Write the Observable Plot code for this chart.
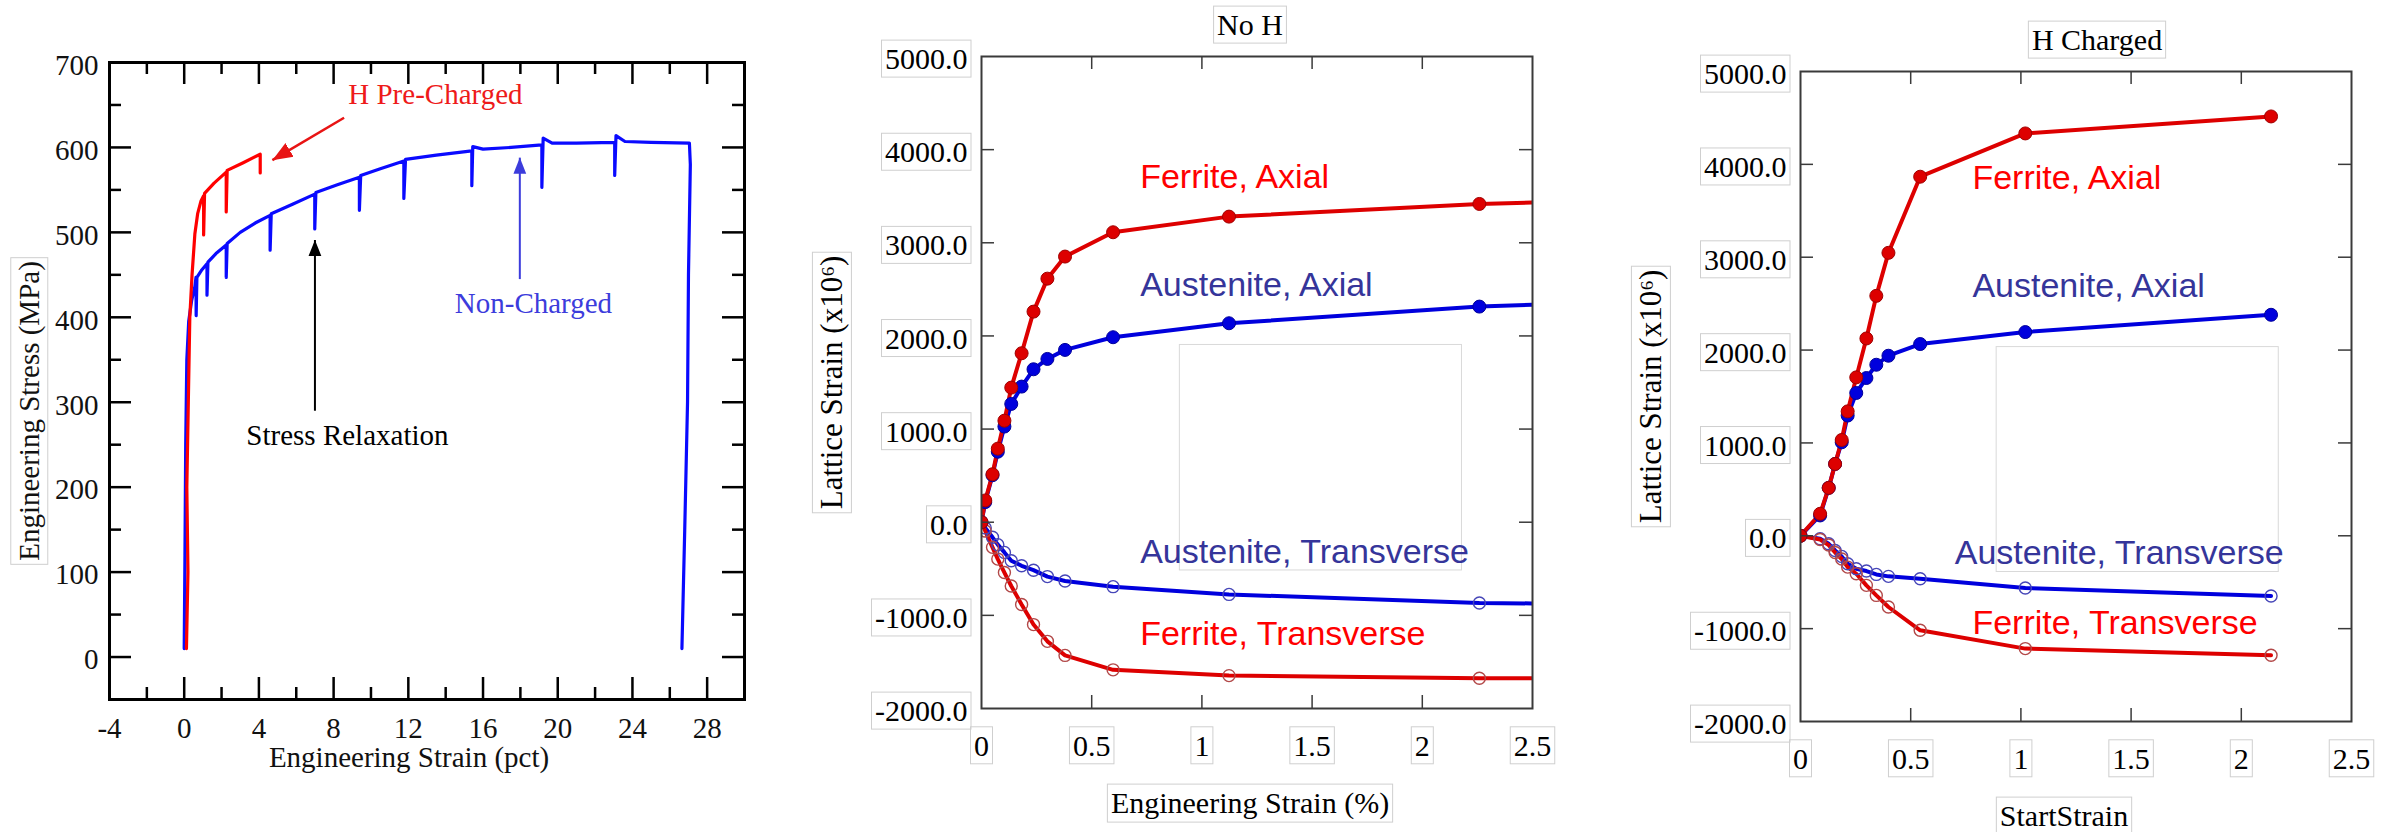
<!DOCTYPE html>
<html>
<head>
<meta charset="utf-8">
<script src="https://cdn.jsdelivr.net/npm/d3@7"></script>
<script src="https://cdn.jsdelivr.net/npm/@observablehq/plot@0.6"></script>
<style>
  html, body { margin: 0; padding: 0; background: #fff; }
  #figure { position: relative; width: 2389px; height: 832px; overflow: hidden; background: #fff; }
  #figure > svg { position: absolute; top: 0; }
</style>
</head>
<body>
<div id="figure"></div>
<script>
// ---------- Tensile curves (engineering strain in pct, stress in MPa) ----------
const nonChargedStrain = [0.00, 0.04, 0.08, 0.14, 0.24, 0.40, 0.57, 0.63, 0.64, 0.68, 0.95, 1.22, 1.22, 1.27, 1.70, 2.25, 2.25, 2.30, 3.00, 3.80, 4.60, 4.60, 4.66, 5.80, 6.99, 6.99, 7.05, 8.20, 9.38, 9.38, 9.45, 10.5, 11.76, 11.76, 11.85, 13.5, 15.40, 15.40, 15.45, 16.0, 17.5, 19.15, 19.15, 19.22, 19.7, 21.0, 23.05, 23.05, 23.12, 23.6, 25.0, 27.05, 27.10, 27.00, 26.95, 26.80, 26.65];
const nonChargedStress = [10, 120, 250, 350, 395, 420, 436, 447, 402, 447, 456, 463, 426, 465, 475, 485, 447, 487, 500, 511, 520, 479, 522, 533, 545, 504, 547, 556, 565, 526, 567, 575, 584, 540, 586, 591, 596, 555, 601, 598, 600, 603, 553, 611, 605, 605, 606, 567, 614, 607, 606, 605, 580, 450, 300, 150, 10];
const preChargedStrain = [0.12, 0.20, 0.14, 0.22, 0.30, 0.42, 0.57, 0.72, 0.90, 1.04, 1.04, 1.09, 1.60, 2.25, 2.25, 2.30, 3.16, 4.07, 4.07];
const preChargedStress = [10, 100, 200, 300, 400, 450, 498, 522, 537, 543, 497, 546, 558, 571, 524, 573, 582, 592, 570];

const tensileXLabels = [-4, 0, 4, 8, 12, 16, 20, 24, 28];
const tensileXMajor = [0, 4, 8, 12, 16, 20, 24, 28];
const tensileXMinor = [-2, 2, 6, 10, 14, 18, 22, 26];
const tensileYLabels = [0, 100, 200, 300, 400, 500, 600, 700];
const tensileYMajor = [0, 100, 200, 300, 400, 500, 600];
const tensileYMinor = [50, 150, 250, 350, 450, 550, 650];

const tensileNotes = [
  {text: "H Pre-Charged", x: 13.45, y: 662, color: "#ee1a1a"},
  {text: "Non-Charged", x: 18.7, y: 416, color: "#3c3cdc"},
  {text: "Stress Relaxation", x: 8.74, y: 260, color: "#000000"}
];
const tensileArrows = [
  {x1: 8.56, y1: 635, x2: 4.72, y2: 585, color: "#e81414", width: 2.5},
  {x1: 7.0, y1: 290, x2: 7.0, y2: 491, color: "#000000", width: 2},
  {x1: 17.97, y1: 445, x2: 17.97, y2: 588, color: "#3c3cdc", width: 2}
];

// ---------- Lattice strains (x10^6) without hydrogen ----------
const noHStrain = [0, 0.017, 0.05, 0.074, 0.104, 0.135, 0.182, 0.236, 0.299, 0.379, 0.597, 1.123, 2.259, 3.0];
const noHFerriteAxial = [0, 234, 515, 790, 1090, 1445, 1814, 2261, 2615, 2852, 3113, 3281, 3417, 3465];
const noHAusteniteAxial = [0, 216, 505, 757, 1027, 1270, 1456, 1642, 1753, 1850, 1986, 2136, 2315, 2375];
const noHFerriteTransverse = [0, -95, -270, -396, -540, -685, -883, -1099, -1279, -1430, -1585, -1647, -1676, -1676];
const noHAusteniteTransverse = [0, -61, -162, -241, -324, -414, -468, -515, -584, -631, -692, -775, -868, -880];

// ---------- Lattice strains (x10^6) after hydrogen charging ----------
const hStrain = [0, 0.089, 0.128, 0.157, 0.187, 0.214, 0.253, 0.299, 0.344, 0.399, 0.543, 1.02, 2.135];
const hFerriteAxial = [0, 237, 516, 774, 1032, 1340, 1706, 2125, 2584, 3047, 3867, 4333, 4516];
const hAusteniteAxial = [0, 219, 516, 774, 1007, 1295, 1538, 1699, 1842, 1939, 2065, 2194, 2380];
const hFerriteTransverse = [0, -40, -100, -180, -250, -337, -409, -534, -642, -767, -1018, -1215, -1287];
const hAusteniteTransverse = [0, -32, -86, -158, -222, -301, -355, -380, -416, -437, -462, -563, -649];

const latticeXLabels = [0, 0.5, 1, 1.5, 2, 2.5];
const latticeXTicks = [0.5, 1, 1.5, 2];
const latticeYLabels = [-2000, -1000, 0, 1000, 2000, 3000, 4000, 5000];
const latticeYTicks = [-1000, 0, 1000, 2000, 3000, 4000];

const noHSeriesLabels = [
  {text: "Ferrite, Axial", x: 0.72, y: 3591, phase: "ferrite"},
  {text: "Austenite, Axial", x: 0.72, y: 2432, phase: "austenite"},
  {text: "Austenite, Transverse", x: 0.72, y: -443, phase: "austenite"},
  {text: "Ferrite, Transverse", x: 0.72, y: -1323, phase: "ferrite"}
];
const hSeriesLabels = [
  {text: "Ferrite, Axial", x: 0.78, y: 3730, phase: "ferrite"},
  {text: "Austenite, Axial", x: 0.78, y: 2567, phase: "austenite"},
  {text: "Austenite, Transverse", x: 0.70, y: -307, phase: "austenite"},
  {text: "Ferrite, Transverse", x: 0.78, y: -1060, phase: "ferrite"}
];
// empty legend frames left over in each lattice panel
const noHLegendBox = [{x1: 0.9, x2: 2.18, y1: 1903, y2: -518}];
const hLegendBox = [{x1: 0.89, x2: 2.17, y1: 2032, y2: -390}];

// ---------- styling ----------
const SERIF = "'Liberation Serif', 'Times New Roman', Times, serif";
const SANS = "'Liberation Sans', Arial, Helvetica, sans-serif";
const FERRITE_LINE = "#dd0000";
const AUSTENITE_LINE = "#0000dd";
const FERRITE_TEXT = "#ff0000";
const AUSTENITE_TEXT = "#35359a";

// Short tick marks pointing into the frame on all four sides: rules inset so only `size` px remain.
function inwardTicks(innerWidth, innerHeight, xs, ys, size, stroke, strokeWidth) {
  const o = {stroke, strokeWidth};
  return [
    Plot.ruleX(xs, {x: (d) => d, insetTop: innerHeight - size, ...o}),
    Plot.ruleX(xs, {x: (d) => d, insetBottom: innerHeight - size, ...o}),
    Plot.ruleY(ys, {y: (d) => d, insetRight: innerWidth - size, ...o}),
    Plot.ruleY(ys, {y: (d) => d, insetLeft: innerWidth - size, ...o})
  ];
}

function rowsOf(xs, ys) {
  return xs.map((x, i) => ({x, y: ys[i]}));
}

// ---------- left panel: stress-strain ----------
const nonCharged = nonChargedStrain.map((s, i) => ({strain: s, stress: nonChargedStress[i]}));
const preCharged = preChargedStrain.map((s, i) => ({strain: s, stress: preChargedStress[i]}));

const T = {width: 780, height: 832, left: 109, right: 36, top: 62, bottom: 133};
const tW = T.width - T.left - T.right;
const tH = T.height - T.top - T.bottom;

const tensile = Plot.plot({
  width: T.width,
  height: T.height,
  marginLeft: T.left,
  marginRight: T.right,
  marginTop: T.top,
  marginBottom: T.bottom,
  x: {domain: [-4, 30]},
  y: {domain: [-50, 700]},
  style: {fontFamily: SERIF, fontSize: "29px", color: "black", background: "white"},
  marks: [
    Plot.line(nonCharged, {x: "strain", y: "stress", stroke: "#0a0aff", strokeWidth: 3.2, strokeLinejoin: "round"}),
    Plot.line(preCharged, {x: "strain", y: "stress", stroke: "#ff0000", strokeWidth: 3.2, strokeLinejoin: "round"}),
    ...tensileArrows.map((a) => Plot.link([a], {x1: "x1", y1: "y1", x2: "x2", y2: "y2", stroke: a.color, strokeWidth: a.width, markerEnd: "arrow"})),
    ...tensileNotes.map((n) => Plot.text([n], {x: "x", y: "y", text: "text", fill: n.color, fontSize: 29, lineAnchor: "middle"})),
    ...inwardTicks(tW, tH, tensileXMajor, tensileYMajor, 22, "black", 2.5),
    ...inwardTicks(tW, tH, tensileXMinor, tensileYMinor, 12, "black", 2.5),
    Plot.frame({stroke: "black", strokeWidth: 3}),
    Plot.axisX({anchor: "bottom", ticks: tensileXLabels, tickSize: 0, tickPadding: 18, tickFormat: (d) => String(d), label: null, fill: "#111"}),
    Plot.axisY({anchor: "left", ticks: tensileYLabels, tickSize: 0, tickPadding: 11, tickFormat: (d) => String(d), label: null, dy: 3, fill: "#111"}),
    Plot.text(["Engineering Strain (pct)"], {text: (d) => d, frameAnchor: "bottom", textAnchor: "middle", dx: -18, dy: 58, lineAnchor: "middle", fontSize: 29, fill: "#111"}),
    Plot.text(["Engineering Stress (MPa)"], {text: (d) => d, frameAnchor: "left", textAnchor: "middle", rotate: -90, dx: -80, dy: 30, lineAnchor: "middle", fontSize: 29, fill: "#111"})
  ]
});

// ---------- lattice-strain panels ----------
function latticePanel(cfg) {
  const {strain, fa, aa, ft, at, labels, legendBox, title, titleDx, titleDy, xTitle, xTitleDx, width, marginLeft, marginRight, marginTop, marginBottom} = cfg;
  const height = 832;
  const innerW = width - marginLeft - marginRight;
  const innerH = height - marginTop - marginBottom;
  const ferriteAxial = rowsOf(strain, fa);
  const austeniteAxial = rowsOf(strain, aa);
  const ferriteTransverse = rowsOf(strain, ft);
  const austeniteTransverse = rowsOf(strain, at);
  return Plot.plot({
    width,
    height,
    marginLeft,
    marginRight,
    marginTop,
    marginBottom,
    x: {domain: [0, 2.5]},
    y: {domain: [-2000, 5000]},
    style: {fontFamily: SERIF, fontSize: "30px", color: "black", background: "white"},
    marks: [
      Plot.rect(legendBox, {x1: "x1", x2: "x2", y1: "y1", y2: "y2", fill: "none", stroke: "#d9d9d9", strokeWidth: 1}),
      Plot.line(austeniteTransverse, {x: "x", y: "y", stroke: AUSTENITE_LINE, strokeWidth: 4, clip: true}),
      Plot.line(ferriteTransverse, {x: "x", y: "y", stroke: FERRITE_LINE, strokeWidth: 4, clip: true}),
      Plot.line(austeniteAxial, {x: "x", y: "y", stroke: AUSTENITE_LINE, strokeWidth: 4, clip: true}),
      Plot.line(ferriteAxial, {x: "x", y: "y", stroke: FERRITE_LINE, strokeWidth: 4, clip: true}),
      Plot.dot(austeniteTransverse, {x: "x", y: "y", r: 6, fill: "none", stroke: "#4646b8", strokeWidth: 1.4, clip: true}),
      Plot.dot(ferriteTransverse, {x: "x", y: "y", r: 6, fill: "none", stroke: "#b24848", strokeWidth: 1.4, clip: true}),
      Plot.dot(austeniteAxial, {x: "x", y: "y", r: 6.5, fill: AUSTENITE_LINE, stroke: "#00009a", strokeWidth: 1, clip: true}),
      Plot.dot(ferriteAxial, {x: "x", y: "y", r: 6.5, fill: FERRITE_LINE, stroke: "#a00000", strokeWidth: 1, clip: true}),
      Plot.text(labels.filter((d) => d.phase === "ferrite"), {x: "x", y: "y", text: "text", fill: FERRITE_TEXT, fontFamily: SANS, fontSize: 34, textAnchor: "start", lineAnchor: "bottom"}),
      Plot.text(labels.filter((d) => d.phase === "austenite"), {x: "x", y: "y", text: "text", fill: AUSTENITE_TEXT, fontFamily: SANS, fontSize: 34, textAnchor: "start", lineAnchor: "bottom"}),
      ...inwardTicks(innerW, innerH, latticeXTicks, latticeYTicks, 13, "#3a3a3a", 1.5),
      Plot.frame({stroke: "#3a3a3a", strokeWidth: 2}),
      Plot.axisX({anchor: "bottom", ticks: latticeXLabels, tickSize: 0, tickPadding: 26, tickFormat: (d) => String(d), label: null}),
      Plot.axisY({anchor: "left", ticks: latticeYLabels, tickSize: 0, tickPadding: 14, tickFormat: (d) => d.toFixed(1), label: null, dy: 3}),
      Plot.text([title], {text: (d) => d, frameAnchor: "top", textAnchor: "middle", dx: titleDx, dy: titleDy, lineAnchor: "middle", fontSize: 30}),
      Plot.text([xTitle], {text: (d) => d, frameAnchor: "bottom", textAnchor: "middle", dx: xTitleDx, dy: 95, lineAnchor: "middle", fontSize: 30}),
      Plot.text(["Lattice Strain (x10\u2076)"], {text: (d) => d, frameAnchor: "left", textAnchor: "middle", rotate: -90, dx: -149, lineAnchor: "middle", fontSize: 31})
    ]
  });
}

const noH = latticePanel({
  strain: noHStrain, fa: noHFerriteAxial, aa: noHAusteniteAxial, ft: noHFerriteTransverse, at: noHAusteniteTransverse,
  labels: noHSeriesLabels, legendBox: noHLegendBox,
  title: "No H", titleDx: -7, titleDy: -31,
  xTitle: "Engineering Strain (%)", xTitleDx: -7,
  width: 800, marginLeft: 201, marginRight: 48, marginTop: 56, marginBottom: 124
});

const hCharged = latticePanel({
  strain: hStrain, fa: hFerriteAxial, aa: hAusteniteAxial, ft: hFerriteTransverse, at: hAusteniteTransverse,
  labels: hSeriesLabels, legendBox: hLegendBox,
  title: "H Charged", titleDx: 21, titleDy: -31,
  xTitle: "StartStrain", xTitleDx: -12,
  width: 809, marginLeft: 220, marginRight: 38, marginTop: 71, marginBottom: 111
});

const figure = document.getElementById("figure");
[[tensile, 0], [noH, 780], [hCharged, 1580]].forEach(([svg, left]) => {
  svg.style.left = left + "px";
  figure.appendChild(svg);
});

// Filled triangular arrowheads for the annotation arrows.
tensile.querySelectorAll("marker").forEach((m) => {
  const color = m.getAttribute("stroke") || "black";
  m.setAttribute("viewBox", "-10 -5 10 10");
  m.setAttribute("markerWidth", 8);
  m.setAttribute("markerHeight", 8);
  m.setAttribute("fill", color);
  m.setAttribute("stroke", "none");
  m.innerHTML = "";
  const p = document.createElementNS("http://www.w3.org/2000/svg", "path");
  p.setAttribute("d", "M-10,-4L0,0L-10,4Z");
  m.appendChild(p);
});

// Thin grey frames around the labels.
function boxText(svg, filter) {
  svg.querySelectorAll("text").forEach((t) => {
    if (!t.textContent.trim() || !filter(t)) return;
    const b = t.getBBox();
    const r = document.createElementNS("http://www.w3.org/2000/svg", "rect");
    r.setAttribute("x", b.x - 3.5);
    r.setAttribute("y", b.y - 2);
    r.setAttribute("width", b.width + 7);
    r.setAttribute("height", b.height + 4);
    r.setAttribute("fill", "none");
    r.setAttribute("stroke", "#cfcfcf");
    r.setAttribute("stroke-width", 1);
    if (t.hasAttribute("transform")) r.setAttribute("transform", t.getAttribute("transform"));
    t.parentNode.insertBefore(r, t);
  });
}
const seriesFills = new Set([FERRITE_TEXT, AUSTENITE_TEXT]);
[noH, hCharged].forEach((svg) => boxText(svg, (t) => !seriesFills.has(t.parentNode.getAttribute("fill"))));
boxText(tensile, (t) => t.textContent === "Engineering Stress (MPa)");
</script>
</body>
</html>
